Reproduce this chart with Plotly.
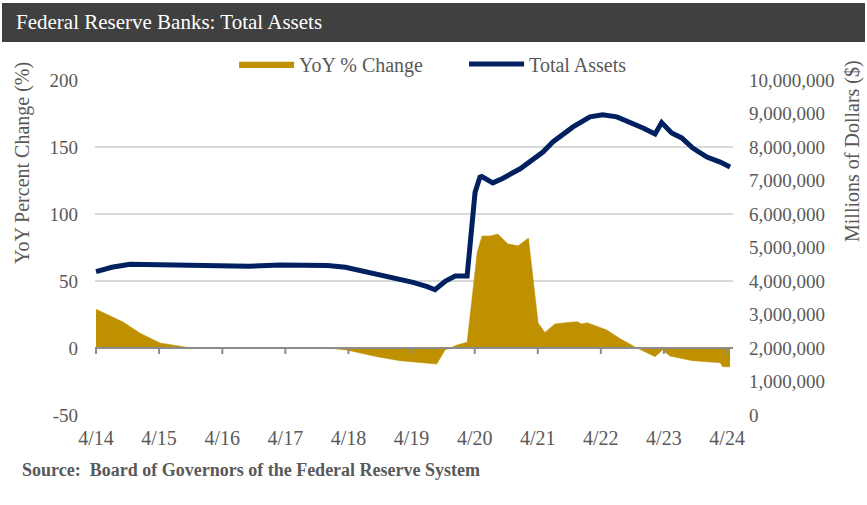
import plotly.graph_objects as go

# Federal Reserve total assets (millions of dollars)
asset_dates = [
    "2014-04-01", "2014-07-01", "2014-10-15", "2015-06-01", "2016-03-01", "2016-09-01",
    "2017-03-01", "2017-09-01", "2017-12-01", "2018-03-15", "2018-06-15", "2018-10-01",
    "2019-01-01", "2019-04-10", "2019-07-01", "2019-08-15", "2019-10-15", "2019-12-10",
    "2020-02-17", "2020-04-03", "2020-05-01", "2020-05-12", "2020-07-15", "2020-09-12",
    "2020-12-20", "2021-02-15", "2021-05-01", "2021-06-27", "2021-10-22", "2022-01-28",
    "2022-04-12", "2022-07-03", "2022-10-03", "2022-12-01", "2023-02-09", "2023-03-19",
    "2023-05-16", "2023-07-13", "2023-09-15", "2023-12-06", "2024-02-21", "2024-04-18",
]
total_assets = [
    4280000, 4410000, 4500000, 4480000, 4480000, 4440000,
    4480000, 4480000, 4460000, 4410000, 4310000, 4180000,
    4080000, 3960000, 3830000, 3740000, 4000000, 4150000,
    4150000, 6650000, 7100000, 7120000, 6930000, 7070000,
    7350000, 7550000, 7850000, 8150000, 8600000, 8900000,
    8960000, 8900000, 8720000, 8570000, 8390000, 8730000,
    8420000, 8270000, 7970000, 7700000, 7550000, 7400000,
]

# Year-over-year percent change of total assets
yoy_dates = [
    "2014-04-01", "2014-09-04", "2014-12-13", "2015-04-07", "2015-09-10", "2016-04-01",
    "2016-10-01", "2017-04-01", "2017-10-01", "2018-01-03", "2018-03-22", "2018-09-13",
    "2019-01-25", "2019-04-10", "2019-07-16", "2019-08-25", "2019-10-12", "2019-12-21",
    "2020-02-06", "2020-02-17", "2020-04-15", "2020-05-13", "2020-06-28", "2020-08-13",
    "2020-10-10", "2020-12-09", "2021-02-06", "2021-04-03", "2021-05-12", "2021-07-09",
    "2021-09-18", "2021-11-15", "2021-12-12", "2022-01-12", "2022-05-06", "2022-07-18",
    "2022-10-27", "2023-02-09", "2023-03-24", "2023-05-06", "2023-09-15", "2024-02-21",
    "2024-03-06", "2024-04-18",
]
yoy_change = [
    29.0, 19.4, 11.0, 3.7, 0.5, 0.0,
    -0.3, 0.2, 0.0, -0.5, -1.5, -6.5,
    -9.5, -10.4, -11.4, -12.0, -1.5, 2.2,
    4.0, 4.2, 71.0, 83.6, 83.6, 85.0,
    77.6, 76.3, 82.0, 18.6, 11.6, 18.0,
    19.0, 19.6, 18.0, 18.9, 13.4, 7.2,
    0.0, -6.5, -1.5, -6.0, -9.5, -11.0,
    -14.0, -14.0,
]

# Axis ticks
year_ticks = ["2014-04-01", "2015-04-01", "2016-04-01", "2017-04-01", "2018-04-01", "2019-04-01",
              "2020-04-01", "2021-04-01", "2022-04-01", "2023-04-01", "2024-04-01"]
year_labels = ["4/14", "4/15", "4/16", "4/17", "4/18", "4/19",
               "4/20", "4/21", "4/22", "4/23", "4/24"]
pct_ticks = [-50, 0, 50, 100, 150, 200]
pct_labels = ["-50", "0", "50", "100", "150", "200"]

GOLD = "#BF9000"
NAVY = "#002060"
TXT = "#595959"
SERIF = "Liberation Serif"

fig = go.Figure()
fig.add_trace(go.Scatter(
    x=yoy_dates, y=yoy_change, name="YoY % Change", mode="lines",
    fill="tozeroy", fillcolor=GOLD, line=dict(color=GOLD, width=0.5),
    yaxis="y",
))
fig.add_trace(go.Scatter(
    x=asset_dates, y=total_assets, name="Total Assets", mode="lines",
    line=dict(color=NAVY, width=5), yaxis="y2",
))

shapes = [
    # title bar
    dict(type="rect", xref="paper", yref="paper", x0=-0.1458, x1=1.2069, y0=1.1134, y1=1.2299,
         fillcolor="#404040", line=dict(width=0), layer="below"),
    # zero line of the percent axis
    dict(type="line", xref="paper", yref="y", x0=0, x1=1, y0=0, y1=0,
         line=dict(color="#8C8C8C", width=2), layer="above"),
]
for d in year_ticks:
    shapes.append(dict(type="line", xref="x", yref="y", ysizemode="pixel", yanchor=0,
                       x0=d, x1=d, y0=0, y1=-6, line=dict(color="#8C8C8C", width=2), layer="above"))

annotations = [
    dict(text="Federal Reserve Banks: Total Assets", xref="paper", yref="paper",
         x=-0.127, y=1.1731, xanchor="left", yanchor="middle", showarrow=False,
         font=dict(family=SERIF, size=21, color="white")),
    dict(text="YoY Percent Change (%)", xref="paper", yref="paper", x=-0.1144, y=0.7522,
         textangle=-90, xanchor="center", yanchor="middle", showarrow=False,
         font=dict(family=SERIF, size=20, color=TXT)),
    dict(text="Millions of Dollars ($)", xref="paper", yref="paper", x=1.1865, y=0.788,
         textangle=-90, xanchor="center", yanchor="middle", showarrow=False,
         font=dict(family=SERIF, size=20, color=TXT)),
    dict(text="<b>Source:  Board of Governors of the Federal Reserve System</b>", xref="paper",
         yref="paper", x=-0.1176, y=-0.1642, xanchor="left", yanchor="middle", showarrow=False,
         font=dict(family=SERIF, size=18, color=TXT)),
]

fig.update_layout(
    width=867, height=505,
    margin=dict(l=95, r=134, t=80, b=90),
    paper_bgcolor="white", plot_bgcolor="white",
    font=dict(family=SERIF, color=TXT, size=19),
    showlegend=True,
    legend=dict(orientation="h", x=0.218, y=1.0478, xanchor="left", yanchor="middle",
                font=dict(family=SERIF, size=20, color=TXT), itemwidth=55,
                entrywidth=160, entrywidthmode="pixels",
                bgcolor="rgba(0,0,0,0)", traceorder="normal"),
    xaxis=dict(type="date", range=["2014-03-26", "2024-05-05"], showgrid=False, zeroline=False,
               showline=False, tickmode="array", tickvals=year_ticks, ticktext=year_labels,
               ticks="", tickfont=dict(family=SERIF, size=20, color=TXT), ticklabelstandoff=9),
    yaxis=dict(range=[-50, 200], tickmode="array", tickvals=pct_ticks, ticktext=pct_labels,
               showgrid=True, gridcolor="#D9D9D9",
               gridwidth=1.5, zeroline=False, showline=False, ticks="",
               tickfont=dict(family=SERIF, size=19, color=TXT), ticklabelstandoff=16),
    yaxis2=dict(range=[0, 10000000], dtick=1000000, overlaying="y", side="right",
                showgrid=False, zeroline=False, showline=False, ticks="", tickformat=",d",
                tickfont=dict(family=SERIF, size=19, color=TXT), ticklabelstandoff=15),
    shapes=shapes,
    annotations=annotations,
)

fig.write_html("out.html")
